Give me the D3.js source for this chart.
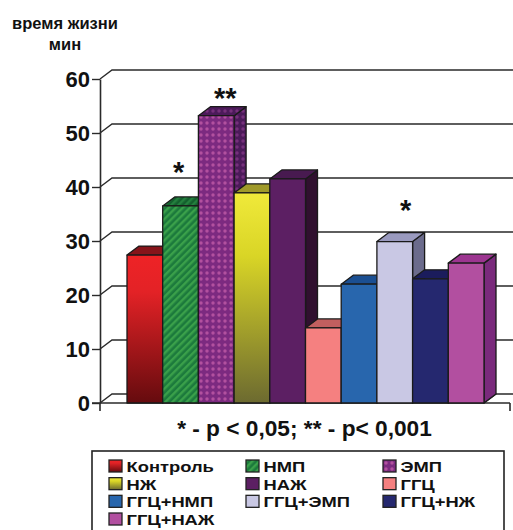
<!DOCTYPE html>
<html>
<head>
<meta charset="utf-8">
<script src="https://cdn.jsdelivr.net/npm/d3@7"></script>
<style>
html, body { margin: 0; padding: 0; background: #fff; overflow: hidden; }
svg { display: block; }
text { font-family: "Liberation Sans", Arial, sans-serif; font-weight: bold; fill: #111; }
</style>
</head>
<body>
<div id="chart"></div>
<script>
var width = 513;
var height = 530;

var categories = ['Контроль', 'НМП', 'ЭМП', 'НЖ', 'НАЖ', 'ГГЦ', 'ГГЦ+НМП', 'ГГЦ+ЭМП', 'ГГЦ+НЖ', 'ГГЦ+НАЖ'];
var values = [27.4, 36.5, 53.2, 38.9, 41.5, 13.9, 22, 29.9, 23, 25.9];
var yTicks = [0, 10, 20, 30, 40, 50, 60];

// stars above the bars, level is read in axis units
var starLabels = ['НМП', 'ЭМП', 'ГГЦ+ЭМП'];
var starTexts = ['*', '**', '*'];
var starLevels = [40.9, 54.6, 33.9];

// front colour, top colour, side colour (same order as categories)
var frontFill = ['url(#redGrad)', 'url(#hatch)', 'url(#dots)', 'url(#yellowGrad)', '#5c1f63', '#f58080', '#2866ad', '#c9c8e4', '#25286f', '#b24fa0'];
var topFill = ['#86141a', 'url(#hatchDark)', 'url(#dotsDark)', '#a09a2a', '#481a50', '#c25f5f', '#1b4f92', '#9a9abf', '#1b1c5c', '#9c3590'];
var sideFill = ['#5c0d10', '#14552c', 'url(#dotsDark)', '#5d5a1e', '#30102f', '#9c4a4a', '#143c72', '#6b6b8c', '#14154a', '#7a2a7c'];

var depth = { x: 12, y: 9 };
var starShift = [-2, 9, 11];

var svg = d3.select('#chart')
	.append('svg')
	.attr('width', width)
	.attr('height', height);

var defs = svg.append('defs');

var redGrad = defs.append('linearGradient').attr('id', 'redGrad').attr('x1', 0).attr('y1', 0).attr('x2', 0).attr('y2', 1);
redGrad.append('stop').attr('offset', '0%').attr('stop-color', '#ee2326');
redGrad.append('stop').attr('offset', '25%').attr('stop-color', '#e32226');
redGrad.append('stop').attr('offset', '100%').attr('stop-color', '#650b0e');

var yellowGrad = defs.append('linearGradient').attr('id', 'yellowGrad').attr('x1', 0).attr('y1', 0).attr('x2', 0).attr('y2', 1);
yellowGrad.append('stop').attr('offset', '0%').attr('stop-color', '#f0e93a');
yellowGrad.append('stop').attr('offset', '30%').attr('stop-color', '#d9d526');
yellowGrad.append('stop').attr('offset', '100%').attr('stop-color', '#6c6a30');

function hatchPattern(id, bg, fg) {
	var p = defs.append('pattern').attr('id', id).attr('width', 5).attr('height', 5)
		.attr('patternUnits', 'userSpaceOnUse').attr('patternTransform', 'rotate(45)');
	p.append('rect').attr('width', 5).attr('height', 5).attr('fill', bg);
	p.append('rect').attr('width', 2.4).attr('height', 5).attr('fill', fg);
}
hatchPattern('hatch', '#1c7a3c', '#3aa04a');
hatchPattern('hatchDark', '#14602e', '#24803e');

function dotPattern(id, bg, fg) {
	var p = defs.append('pattern').attr('id', id).attr('width', 6).attr('height', 6)
		.attr('patternUnits', 'userSpaceOnUse');
	p.append('rect').attr('width', 6).attr('height', 6).attr('fill', bg);
	p.append('circle').attr('cx', 3).attr('cy', 3).attr('r', 1.7).attr('fill', fg);
}
dotPattern('dots', '#7c2a80', '#b2509f');
dotPattern('dotsDark', '#4c1a5a', '#76307c');

var x = d3.scaleBand()
	.domain(categories)
	.range([127, 484])
	.padding(0);

var y = d3.scaleLinear()
	.domain([0, 60])
	.range([403, 79]);

var axisX = 100;
var axisEnd = 510;
var lineColor = '#2a2a2a';

// back wall gridlines with the slanted piece down to the axis
var grid = svg.append('g').attr('fill', 'none').attr('stroke', lineColor).attr('stroke-width', 1.4);
yTicks.forEach(function(t) {
	grid.append('path')
		.attr('d', 'M' + axisX + ',' + y(t) + 'L' + (axisX + depth.x) + ',' + (y(t) - depth.y) + 'H' + width);
});

// floor
grid.append('path')
	.attr('d', 'M' + (x.range()[1]) + ',' + y(0) + 'L' + (x.range()[1] + depth.x) + ',' + (y(0) - depth.y));

// y axis
var yAxis = d3.axisLeft(y)
	.tickValues(yTicks)
	.tickSize(8)
	.tickPadding(2)
	.tickSizeOuter(0);

var yG = svg.append('g')
	.attr('transform', 'translate(' + axisX + ',0)')
	.call(yAxis);
yG.select('.domain').attr('stroke', lineColor).attr('stroke-width', 1.6);
yG.selectAll('.tick line').attr('stroke', lineColor).attr('stroke-width', 1.4);
yG.selectAll('.tick text')
	.attr('font-size', 22)
	.style('font-family', '"Liberation Sans", Arial, sans-serif')
	.style('font-weight', 'bold');

// axis stubs below zero and the front floor line
[axisX, axisEnd].forEach(function(px) {
	svg.append('line')
		.attr('x1', px).attr('x2', px)
		.attr('y1', y(0)).attr('y2', y(0) + 8)
		.attr('stroke', lineColor).attr('stroke-width', 1.6);
});
svg.append('line')
	.attr('x1', axisX - 8).attr('x2', axisEnd)
	.attr('y1', y(0)).attr('y2', y(0))
	.attr('stroke', lineColor).attr('stroke-width', 1.6);

// bars
var bars = svg.append('g')
	.selectAll('g')
	.data(categories)
	.enter()
	.append('g')
	.attr('stroke', '#1a1a1a')
	.attr('stroke-width', 1.3)
	.attr('stroke-linejoin', 'round');

bars.append('path')  // side
	.attr('fill', function(d, i) { return sideFill[i]; })
	.attr('d', function(d, i) {
		var x1 = x(d) + x.bandwidth();
		return 'M' + x1 + ',' + y(values[i]) + 'l' + depth.x + ',' + (-depth.y) + 'V' + (y(0) - depth.y) + 'L' + x1 + ',' + y(0) + 'Z';
	});

bars.append('path')  // top
	.attr('fill', function(d, i) { return topFill[i]; })
	.attr('d', function(d, i) {
		return 'M' + x(d) + ',' + y(values[i]) + 'l' + depth.x + ',' + (-depth.y) + 'h' + x.bandwidth() + 'l' + (-depth.x) + ',' + depth.y + 'Z';
	});

bars.append('rect')  // front
	.attr('x', function(d) { return x(d); })
	.attr('y', function(d, i) { return y(values[i]); })
	.attr('width', x.bandwidth())
	.attr('height', function(d, i) { return y(0) - y(values[i]); })
	.attr('fill', function(d, i) { return frontFill[i]; });

// significance stars
svg.append('g')
	.selectAll('text')
	.data(starLabels)
	.enter()
	.append('text')
	.attr('x', function(d, i) { return x(d) + x.bandwidth() / 2 + starShift[i]; })
	.attr('y', function(d, i) { return y(starLevels[i]); })
	.attr('text-anchor', 'middle')
	.attr('font-size', 29)
	.text(function(d, i) { return starTexts[i]; });

// y title
svg.append('text').attr('x', 65).attr('y', 29).attr('text-anchor', 'middle').attr('font-size', 16.5).text('время жизни');
svg.append('text').attr('x', 65).attr('y', 50).attr('text-anchor', 'middle').attr('font-size', 16.5).text('мин');

// footnote
svg.append('text').attr('x', 304.5).attr('y', 436).attr('text-anchor', 'middle').attr('font-size', 22.7).text('* - р < 0,05; ** - р< 0,001');

// legend
var legendX = d3.scalePoint().domain([0, 1, 2]).range([109, 383]);
var legendY = d3.scalePoint().domain([0, 1, 2, 3]).range([466, 519]);

svg.append('rect')
	.attr('x', 92).attr('y', 451)
	.attr('width', 412).attr('height', 90)
	.attr('fill', '#fff')
	.attr('stroke', '#222')
	.attr('stroke-width', 1.6);

var legend = svg.append('g')
	.selectAll('g')
	.data(categories)
	.enter()
	.append('g')
	.attr('transform', function(d, i) {
		return 'translate(' + legendX(i % 3) + ',' + legendY(Math.floor(i / 3)) + ')';
	});

legend.append('rect')
	.attr('y', -6)
	.attr('width', 13)
	.attr('height', 12)
	.attr('stroke', '#222')
	.attr('stroke-width', 1.3)
	.attr('fill', function(d, i) { return frontFill[i]; });

// the legend type in the picture is wide and tight, so stretch it sideways
legend.append('text')
	.attr('transform', 'translate(17.5,6) scale(1.2,1)')
	.attr('font-size', 15.3)
	.text(function(d) { return d; });
</script>
</body>
</html>
